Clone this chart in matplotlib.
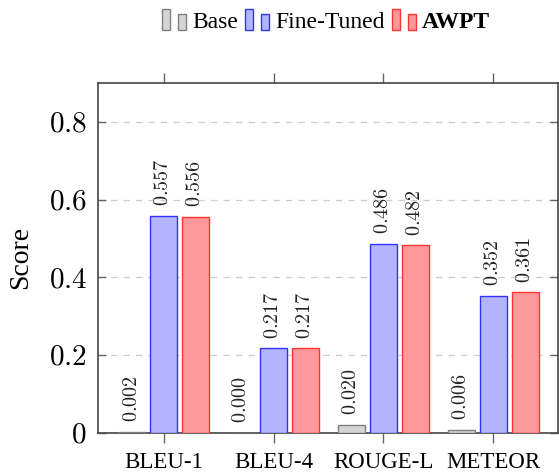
import matplotlib
matplotlib.use("Agg")
import matplotlib.pyplot as plt
import numpy as np
from matplotlib.legend_handler import HandlerBase
from matplotlib.patches import Rectangle, Patch
from matplotlib.ticker import FuncFormatter, FixedLocator

plt.rcParams['font.family'] = ['Liberation Serif', 'DejaVu Serif']
plt.rcParams['mathtext.fontset'] = 'cm'

categories = ["BLEU-1", "BLEU-4", "ROUGE-L", "METEOR"]
series_names = ["Base", "Fine-Tuned", "AWPT"]
base = [0.002, 0.000, 0.020, 0.006]
fine_tuned = [0.557, 0.217, 0.486, 0.352]
awpt = [0.556, 0.217, 0.482, 0.361]
yticks = [0, 0.2, 0.4, 0.6, 0.8]

fills = ["#d4d4d4", "#b3b3ff", "#ff9999"]
edges = ["#808080", "#3333ff", "#ff3333"]

fig = plt.figure(figsize=(5.59, 4.75), dpi=100)
ax = fig.add_axes([98/559, 1-432.5/475, 460/559, (432.5-83)/475])

x = np.arange(len(categories))
width = 0.245
offsets = [-0.29, 0.0, 0.29]
for vals, off, fc, ec in zip([base, fine_tuned, awpt], offsets, fills, edges):
    bars = ax.bar(x + off, vals, width, facecolor=fc, edgecolor=ec, linewidth=1.0, zorder=3)
    for b, v in zip(bars, vals):
        ax.annotate(f"${v:.3f}$", (b.get_x() + b.get_width()/2, b.get_height()),
                    xytext=(0, 7), textcoords="offset points", rotation=90,
                    ha="center", va="bottom", fontsize=14.5, color="#222222")

ax.set_xlim(-0.6, 3.59)
ax.set_ylim(0, 0.9)
ax.set_xticks(x)
ax.set_xticklabels(categories, fontsize=16.5)
ax.yaxis.set_major_locator(FixedLocator(yticks))
ax.yaxis.set_major_formatter(FuncFormatter(lambda v, p: "$0$" if v == 0 else f"${v:.1f}$"))
ax.tick_params(axis='y', labelsize=21, direction='in', length=6, width=1, color="#666666",
               right=True, pad=8)
ax.tick_params(axis='x', direction='out', length=7, width=1, color="#666666", top=True, pad=7)
ax.grid(axis='y', linestyle=(0, (5, 5)), color="#cccccc", linewidth=0.9, zorder=0)
for s in ax.spines.values():
    s.set_color("#444444")
    s.set_linewidth(1.2)
ax.set_ylabel("Score", fontsize=20)
ax.yaxis.set_label_coords(-0.14, 0.5)


class TwoBars(HandlerBase):
    def create_artists(self, legend, orig_handle, xdescent, ydescent, width, height, fontsize, trans):
        w = width * 0.34
        kw = dict(facecolor=orig_handle.get_facecolor(), edgecolor=orig_handle.get_edgecolor(),
                  linewidth=1.0, transform=trans)
        r1 = Rectangle((-xdescent, -ydescent), w, height, **kw)
        r2 = Rectangle((-xdescent + width - w, -ydescent), w, height * 0.75, **kw)
        return [r1, r2]


handles = [Patch(facecolor=fc, edgecolor=ec) for fc, ec in zip(fills, edges)]
leg = fig.legend(handles, series_names, loc="center", bbox_to_anchor=(326/559, 1-21/475),
                 ncol=3, frameon=False, fontsize=17, handler_map={Patch: TwoBars()},
                 handlelength=1.02, handleheight=1.0, handletextpad=0.25, columnspacing=0.3,
                 borderpad=0, borderaxespad=0)
leg.get_texts()[2].set_fontweight("bold")

fig.savefig("out.png", dpi=100)
